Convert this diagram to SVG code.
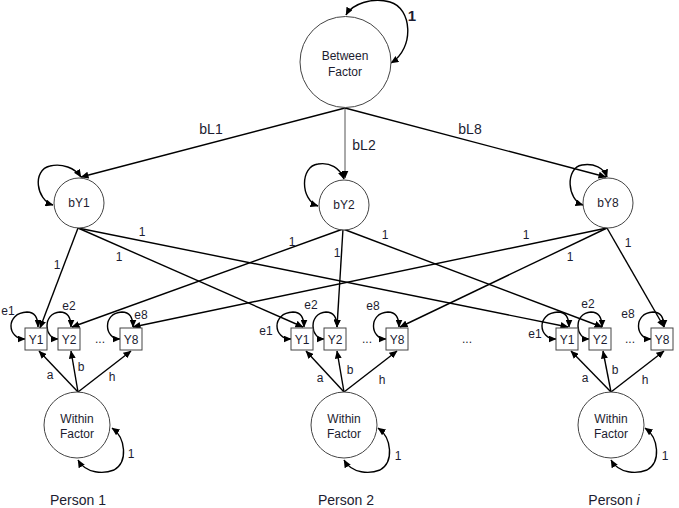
<svg xmlns="http://www.w3.org/2000/svg" width="679" height="508" viewBox="0 0 679 508">
<defs>
<marker id="ah" markerWidth="8" markerHeight="7" refX="7.5" refY="3.5" orient="auto-start-reverse" markerUnits="userSpaceOnUse">
<path d="M0,0 L8,3.5 L0,7 z" fill="#000"/>
</marker>
<style>
.node{fill:#fff;stroke:#444;stroke-width:1}
.box{fill:#fff;stroke:#444;stroke-width:1}
.c{fill:none;stroke:#000;stroke-width:1.4;marker-end:url(#ah)}
.thin{fill:none;stroke:#555;stroke-width:1;marker-end:url(#ah)}
.lp{fill:none;stroke:#000;stroke-width:1.4;marker-end:url(#ah);marker-start:url(#ah)}
text{font-family:"Liberation Sans",Arial,sans-serif;fill:#1c1c30}
.t{font-size:12px;text-anchor:middle}
.s{font-size:12px;text-anchor:middle}
.y{font-size:12px;text-anchor:middle}
.l{font-size:12px;text-anchor:middle}
.p{font-size:14px;text-anchor:middle}
.bl{font-size:14px;text-anchor:middle}
</style>
</defs>
<rect width="679" height="508" fill="#fff"/>

<g id="connectors">
<path class="c" d="M345,108 L81,177"/>
<path class="thin" d="M345,108 L345,178"/>
<path class="c" d="M345,108 L606,177"/>
<path class="lp" d="M391,63 C415,48 412,8 390,2 C372,-3 352,4 346,15"/>
<path class="lp" d="M53,205 C36,200 32,170 50,166 C62,163 75,168 81,177"/>
<path class="lp" d="M318,206 C300,200 300,166 318,164 C330,162 340,168 344,179"/>
<path class="lp" d="M583,205 C567,200 565,168 582,165 C594,163 604,168 607,177"/>
<path class="c" d="M78,228 L40,328"/>
<path class="c" d="M78,228 L303,327"/>
<path class="c" d="M78,228 L568,327"/>
<path class="c" d="M343,229 L72,327"/>
<path class="c" d="M343,229 L337,327"/>
<path class="c" d="M343,229 L602,327"/>
<path class="c" d="M607,228 L133,327"/>
<path class="c" d="M607,228 L400,327"/>
<path class="c" d="M607,228 L664,327"/>
<path class="lp" d="M25,339 C7,339 5,313 27,312 C35,312 38,318 38,327"/>
<path class="lp" d="M58,339 C44,339 42,313 60,312 C68,312 71,318 71,327"/>
<path class="lp" d="M120,339 C104,339 102,313 122,312 C130,312 133,318 133,327"/>
<path class="lp" d="M291,339 C273,339 271,313 293,312 C301,312 304,318 304,327"/>
<path class="lp" d="M324,339 C310,339 308,313 326,312 C334,312 337,318 337,327"/>
<path class="lp" d="M386,339 C370,339 368,313 388,312 C396,312 399,318 399,327"/>
<path class="lp" d="M556,339 C538,339 536,313 558,312 C566,312 569,318 569,327"/>
<path class="lp" d="M589,339 C575,339 573,313 591,312 C599,312 602,318 602,327"/>
<path class="lp" d="M651,339 C635,339 633,313 653,312 C661,312 664,318 664,327"/>
<path class="c" d="M78,392 L39,351"/>
<path class="c" d="M78,392 L71,351"/>
<path class="c" d="M78,392 L131,351"/>
<path class="c" d="M344,392 L306,351"/>
<path class="c" d="M344,392 L337,351"/>
<path class="c" d="M344,392 L397,351"/>
<path class="c" d="M611,392 L571,351"/>
<path class="c" d="M611,392 L603,351"/>
<path class="c" d="M611,392 L664,351"/>
<path class="lp" d="M78,460 C86,474 104,474 114,470 C128,462 126,438 112,428"/>
<path class="lp" d="M344,460 C352,474 370,474 380,470 C394,462 392,438 378,428"/>
<path class="lp" d="M611,460 C619,474 637,474 647,470 C661,462 659,438 645,428"/>
</g>

<g id="labels">
<text x="412" y="21" style="font-size:15px;font-weight:bold" text-anchor="middle">1</text>
<text class="bl" x="211" y="134">bL1</text>
<text class="bl" x="364" y="150">bL2</text>
<text class="bl" x="470" y="134">bL8</text>
<text class="l" x="142" y="236">1</text>
<text class="l" x="119" y="261">1</text>
<text class="l" x="57" y="269">1</text>
<text class="l" x="292" y="246">1</text>
<text class="l" x="337" y="257">1</text>
<text class="l" x="385" y="239">1</text>
<text class="l" x="526" y="239">1</text>
<text class="l" x="570" y="261">1</text>
<text class="l" x="628" y="247">1</text>
<text class="s" x="8" y="315">e1</text>
<text class="s" x="69" y="310">e2</text>
<text class="s" x="141" y="319">e8</text>
<text class="s" x="266" y="335">e1</text>
<text class="s" x="311" y="309">e2</text>
<text class="s" x="373" y="310">e8</text>
<text class="s" x="535" y="338">e1</text>
<text class="s" x="588" y="308">e2</text>
<text class="s" x="628" y="318">e8</text>
<text class="s" x="100" y="343">...</text>
<text class="s" x="367" y="343">...</text>
<text class="s" x="467" y="343">...</text>
<text class="s" x="630" y="343">...</text>
<text class="l" x="50" y="379">a</text>
<text class="l" x="81" y="371">b</text>
<text class="l" x="112" y="381">h</text>
<text class="l" x="320" y="382">a</text>
<text class="l" x="350" y="374">b</text>
<text class="l" x="382" y="384">h</text>
<text class="l" x="585" y="382">a</text>
<text class="l" x="615" y="374">b</text>
<text class="l" x="645" y="384">h</text>
<text class="l" x="131" y="458">1</text>
<text class="l" x="398" y="460">1</text>
<text class="l" x="665" y="460">1</text>
<text class="p" x="78" y="505">Person 1</text>
<text class="p" x="346" y="505">Person 2</text>
<text class="p" x="614" y="505">Person <tspan font-style="italic">i</tspan></text>
</g>

<g id="between">
<circle class="node" cx="345.5" cy="62" r="45.5"/>
<text class="t" x="345" y="60">Between</text>
<text class="t" x="345" y="76">Factor</text>
</g>
<g id="bY1"><circle class="node" cx="79" cy="203" r="25"/><text class="s" x="79" y="207">bY1</text></g>
<g id="bY2"><circle class="node" cx="344" cy="205" r="25"/><text class="s" x="344" y="209">bY2</text></g>
<g id="bY8"><circle class="node" cx="608" cy="203" r="25"/><text class="s" x="608" y="207">bY8</text></g>

<g id="p1_Y1"><rect class="box" x="25" y="328" width="22" height="22"/><text class="y" x="36" y="343.5">Y1</text></g>
<g id="p1_Y2"><rect class="box" x="58" y="328" width="22" height="22"/><text class="y" x="69" y="343.5">Y2</text></g>
<g id="p1_Y8"><rect class="box" x="120" y="328" width="22" height="22"/><text class="y" x="131" y="343.5">Y8</text></g>
<g id="p2_Y1"><rect class="box" x="291" y="328" width="22" height="22"/><text class="y" x="302" y="343.5">Y1</text></g>
<g id="p2_Y2"><rect class="box" x="324" y="328" width="22" height="22"/><text class="y" x="335" y="343.5">Y2</text></g>
<g id="p2_Y8"><rect class="box" x="386" y="328" width="22" height="22"/><text class="y" x="397" y="343.5">Y8</text></g>
<g id="pi_Y1"><rect class="box" x="556" y="328" width="22" height="22"/><text class="y" x="567" y="343.5">Y1</text></g>
<g id="pi_Y2"><rect class="box" x="589" y="328" width="22" height="22"/><text class="y" x="600" y="343.5">Y2</text></g>
<g id="pi_Y8"><rect class="box" x="651" y="328" width="22" height="22"/><text class="y" x="662" y="343.5">Y8</text></g>

<g id="within1"><circle class="node" cx="77" cy="425" r="33"/><text class="t" x="77" y="423">Within</text><text class="t" x="77" y="438">Factor</text></g>
<g id="within2"><circle class="node" cx="344" cy="425" r="33"/><text class="t" x="344" y="423">Within</text><text class="t" x="344" y="438">Factor</text></g>
<g id="withini"><circle class="node" cx="611" cy="425" r="33"/><text class="t" x="611" y="423">Within</text><text class="t" x="611" y="438">Factor</text></g>
</svg>
